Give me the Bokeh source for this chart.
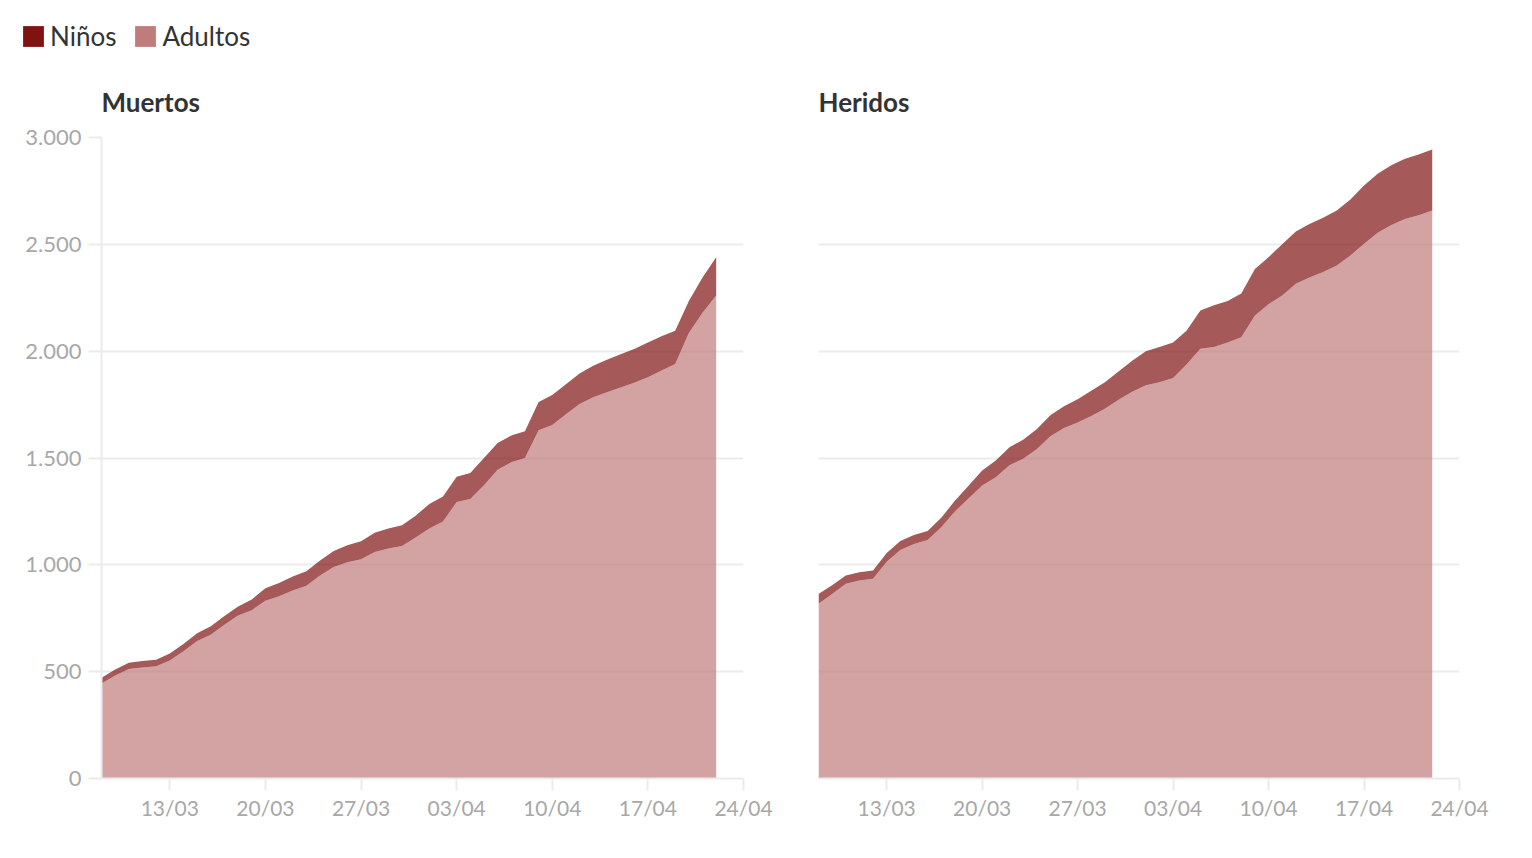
import pandas as pd
from bokeh.plotting import figure
from bokeh.layouts import column, row
from bokeh.models import (ColumnDataSource, FixedTicker, DatetimeTickFormatter,
                          CustomJSTickFormatter, Legend, LegendItem)
from bokeh.embed import file_html
from bokeh.resources import INLINE

# ---------------- data ----------------
dates = pd.date_range("2024-03-08", "2024-04-22", freq="D")

muertos_total = [471, 510, 542, 550, 556, 585, 630, 680, 712, 760, 805, 838, 890, 915, 945,
                 970, 1020, 1065, 1092, 1110, 1150, 1170, 1185, 1230, 1285, 1320, 1412, 1430,
                 1500, 1570, 1605, 1625, 1762, 1795, 1845, 1895, 1932, 1960, 1985, 2010, 2040,
                 2070, 2095, 2235, 2345, 2440]
muertos_ninos = [26, 28, 30, 30, 31, 33, 34, 37, 39, 40, 42, 50, 58, 62, 65, 68, 70, 75, 80, 84,
                 90, 93, 97, 102, 115, 117, 118, 122, 128, 125, 125, 125, 132, 140, 140, 142, 148,
                 152, 155, 158, 162, 160, 155, 150, 165, 180]

heridos_total = [864, 905, 950, 965, 973, 1055, 1112, 1140, 1158, 1220, 1300, 1370, 1441, 1488,
                 1550, 1585, 1635, 1700, 1742, 1775, 1815, 1855, 1905, 1955, 2000, 2020, 2040,
                 2097, 2190, 2215, 2235, 2270, 2385, 2440, 2500, 2560, 2595, 2625, 2658, 2710,
                 2775, 2830, 2870, 2900, 2920, 2944]
heridos_ninos = [46, 42, 39, 38, 38, 40, 42, 42, 42, 44, 50, 60, 70, 78, 84, 89, 94, 98, 102, 109,
                 118, 125, 132, 145, 160, 165, 165, 158, 179, 195, 195, 205, 218, 220, 240, 245,
                 250, 254, 257, 262, 272, 276, 279, 282, 284, 286]

series_names = ["Niños", "Adultos"]
panel_titles = ["Muertos", "Heridos"]
x_tick_dates = ["2024-03-13", "2024-03-20", "2024-03-27", "2024-04-03",
                "2024-04-10", "2024-04-17", "2024-04-24"]
y_ticks = [0, 500, 1000, 1500, 2000, 2500, 3000]
x_start, x_end = "2024-03-08", "2024-04-24"

# ---------------- style ----------------
FONT = "Lato"
GRID = "#ebebeb"
TICK_TXT = "#a8a8a8"
NINO = "#7f1311"
ADULT = "#c07b7b"

x_tick_ms = [pd.Timestamp(d).value / 1e6 for d in x_tick_dates]


def make_panel(title, total, ninos, left_axis, width, min_left, min_right):
    adultos = [t - n for t, n in zip(total, ninos)]
    src = ColumnDataSource(dict(x=dates, adultos=adultos, ninos=ninos))
    p = figure(width=width, height=778, x_axis_type="datetime",
               x_range=(pd.Timestamp(x_start), pd.Timestamp(x_end)), y_range=(0, 3000),
               output_backend="svg", toolbar_location=None,
               min_border_left=min_left, min_border_right=min_right,
               min_border_top=75, min_border_bottom=62,
               y_axis_location="left" if left_axis else None,
               title=title)
    p.outline_line_color = None
    p.varea_stack(["adultos", "ninos"], x="x", source=src,
                  fill_color=[ADULT, NINO], fill_alpha=0.7)

    p.title.text_font = FONT
    p.title.text_font_size = "26px"
    p.title.text_font_style = "bold"
    p.title.text_color = "#333333"
    p.title.align = "left"
    p.title.standoff = 39

    p.xgrid.visible = False
    p.ygrid.ticker = FixedTicker(ticks=y_ticks)
    p.ygrid.grid_line_color = GRID
    p.ygrid.grid_line_width = 2

    xa = p.xaxis[0]
    xa.ticker = FixedTicker(ticks=x_tick_ms)
    xa.formatter = DatetimeTickFormatter(days="%d/%m", months="%d/%m", hours="%d/%m")
    xa.axis_line_color = GRID
    xa.axis_line_width = 2
    xa.major_tick_line_color = GRID
    xa.major_tick_line_width = 2
    xa.major_tick_out = 12
    xa.major_tick_in = 0
    xa.minor_tick_line_color = None
    xa.major_label_text_font = FONT
    xa.major_label_text_font_size = "21px"
    xa.major_label_text_color = TICK_TXT
    xa.major_label_standoff = 4

    if left_axis:
        ya = p.yaxis[0]
        ya.ticker = FixedTicker(ticks=y_ticks)
        ya.formatter = CustomJSTickFormatter(
            code="return tick.toFixed(0).replace(/\\B(?=(\\d{3})+(?!\\d))/g, '.');")
        ya.axis_line_color = GRID
        ya.axis_line_width = 2
        ya.major_tick_line_color = GRID
        ya.major_tick_line_width = 2
        ya.major_tick_out = 13
        ya.major_tick_in = 0
        ya.minor_tick_line_color = None
        ya.major_label_text_font = FONT
        ya.major_label_text_font_size = "22px"
        ya.major_label_text_color = TICK_TXT
        ya.major_label_standoff = 7
    return p


p1 = make_panel(panel_titles[0], muertos_total, muertos_ninos, True, 773, 101, 30)
p2 = make_panel(panel_titles[1], heridos_total, heridos_ninos, False, 736, 45, 50)

# legend strip
lf = figure(width=1509, height=62, output_backend="svg", toolbar_location=None,
            x_range=(0, 1), y_range=(0, 1), x_axis_location=None, y_axis_location=None,
            min_border=0)
lf.outline_line_color = None
lf.grid.visible = False
r1 = lf.varea(x=[2, 3], y1=[0, 0], y2=[1, 1], fill_color=NINO)
r2 = lf.varea(x=[2, 3], y1=[0, 0], y2=[1, 1], fill_color=ADULT)
leg = Legend(items=[LegendItem(label=series_names[0], renderers=[r1]),
                    LegendItem(label=series_names[1], renderers=[r2])],
             orientation="horizontal", location=(20, 10),
             border_line_color=None, background_fill_alpha=0,
             padding=0, margin=0, spacing=16,
             glyph_width=26, glyph_height=26, label_standoff=4,
             label_height=26,
             label_text_font=FONT, label_text_font_size="26px",
             label_text_color="#333333")
lf.add_layout(leg)

layout = column(lf, row(p1, p2))
open("out.html", "w").write(file_html(layout, INLINE))
